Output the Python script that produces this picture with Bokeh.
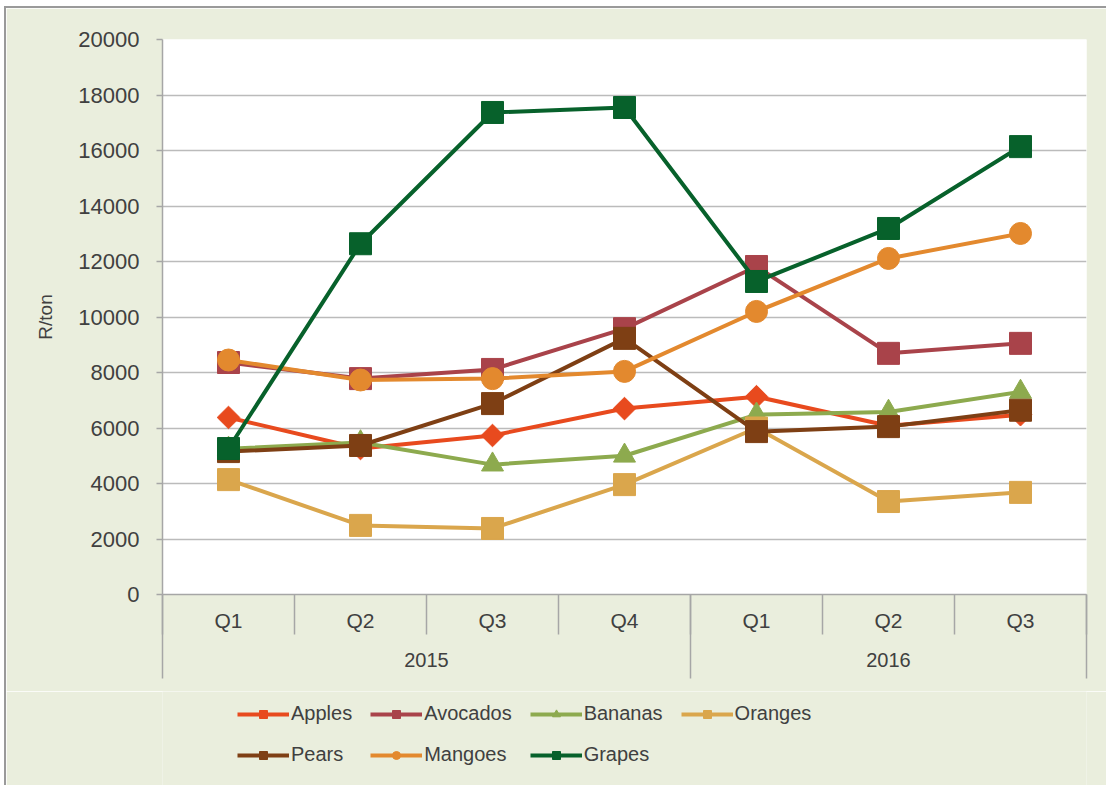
import numpy as np
from bokeh.plotting import figure
from bokeh.layouts import column
from bokeh.models import (Range1d, LinearAxis, FixedTicker,
                          Legend, LegendItem, ColumnDataSource)
from bokeh.embed import file_html
from bokeh.resources import INLINE

# Quarterly prices (R/ton), 2015 Q1 - 2016 Q3
years = ["2015", "2015", "2015", "2015", "2016", "2016", "2016"]
quarters = ["Q1", "Q2", "Q3", "Q4", "Q1", "Q2", "Q3"]

apples = [6380, 5260, 5730, 6700, 7130, 6080, 6480]
avocados = [8360, 7780, 8110, 9580, 11820, 8690, 9050]
bananas = [5250, 5480, 4680, 5000, 6480, 6580, 7300]
oranges = [4140, 2490, 2380, 3960, 6000, 3350, 3680]
pears = [5150, 5370, 6880, 9230, 5870, 6050, 6640]
mangoes = [8450, 7730, 7780, 8040, 10200, 12110, 13010]
grapes = [5260, 12640, 17370, 17550, 11280, 13190, 16140]

series = [
    ("Apples", apples, "#E84A1E", "diamond"),
    ("Avocados", avocados, "#A9434A", "square"),
    ("Bananas", bananas, "#8DAA4E", "triangle"),
    ("Oranges", oranges, "#DAA64C", "square"),
    ("Pears", pears, "#7E3F14", "square"),
    ("Mangoes", mangoes, "#E3892E", "circle"),
    ("Grapes", grapes, "#07612B", "square"),
]

TEXT = "#404040"
FONT = "Liberation Sans"
BG = "#EAEEDD"
GRID = "#BBBBBB"
AXIS = "#A6A6A6"
WIDTH = 1101

n = len(quarters)
# each period occupies one unit slot; points sit in the middle of their slot
slot_centers = [i + 0.5 for i in range(n)]

p = figure(
    width=WIDTH, height=683,
    x_range=Range1d(0, n),
    y_range=Range1d(0, 20000),
    x_axis_location=None,
    output_backend="svg", toolbar_location=None,
    min_border_left=156, min_border_top=31,
    min_border_right=21, min_border_bottom=97,
    background_fill_color="white", border_fill_color=BG,
    outline_line_color=None,
)

# y axis
yax = p.yaxis[0]
yax.ticker = FixedTicker(ticks=list(range(0, 20001, 2000)))
yax.axis_label = "R/ton"
yax.axis_label_text_font = FONT
yax.axis_label_text_font_style = "normal"
yax.axis_label_text_font_size = "19px"
yax.axis_label_text_color = TEXT
yax.axis_label_standoff = 19
yax.major_label_text_font = FONT
yax.major_label_text_font_size = "22px"
yax.major_label_text_color = TEXT
yax.major_label_standoff = 17
yax.major_tick_in = 0
yax.major_tick_out = 6
yax.major_tick_line_color = AXIS
yax.major_tick_line_width = 1.5
yax.minor_tick_line_color = None
yax.axis_line_color = AXIS
yax.axis_line_width = 1.5

p.xgrid.visible = False
p.ygrid.grid_line_color = GRID
p.ygrid.grid_line_width = 1.5

# category axes: quarter labels with slot separators, then year labels
qaxis = LinearAxis(
    ticker=FixedTicker(ticks=slot_centers, minor_ticks=list(range(n + 1))),
    major_label_overrides={c: q for c, q in zip(slot_centers, quarters)},
    major_tick_in=0, major_tick_out=0,
    minor_tick_in=0, minor_tick_out=40,
    minor_tick_line_color=AXIS, minor_tick_line_width=1.5,
    axis_line_color=AXIS, axis_line_width=1.5,
    major_label_text_font=FONT, major_label_text_font_size="21px",
    major_label_text_color=TEXT, major_label_standoff=-26,
)
p.add_layout(qaxis, "below")

year_names = list(dict.fromkeys(years))
year_centers = []
bounds = [0]
for y in year_names:
    idx = [i for i, v in enumerate(years) if v == y]
    year_centers.append((idx[0] + idx[-1] + 1) / 2)
    bounds.append(idx[-1] + 1)
yaxis2 = LinearAxis(
    ticker=FixedTicker(ticks=year_centers, minor_ticks=bounds),
    major_label_overrides={c: y for c, y in zip(year_centers, year_names)},
    major_tick_in=0, major_tick_out=0,
    minor_tick_in=40, minor_tick_out=44,
    minor_tick_line_color=AXIS, minor_tick_line_width=1.5,
    axis_line_color=None,
    major_label_text_font=FONT, major_label_text_font_size="20px",
    major_label_text_color=TEXT, major_label_standoff=-26,
)
p.add_layout(yaxis2, "below")

# legend strip below the chart; its keys reuse each series' data and style
leg = figure(
    width=WIDTH, height=95,
    x_range=Range1d(-20, -10), y_range=Range1d(-20, -10),
    x_axis_location=None, y_axis_location=None,
    output_backend="svg", toolbar_location=None,
    min_border=0, min_border_left=0, min_border_right=0,
    min_border_top=0, min_border_bottom=0,
    background_fill_color=BG, border_fill_color=BG,
    outline_line_color=None,
)
leg.xgrid.visible = False
leg.ygrid.visible = False


def add_series(fig, src, color, marker):
    ln = fig.line("x", "y", source=src, line_color=color, line_width=4)
    if marker == "diamond":
        mk = fig.scatter("x", "y", source=src, marker="square", angle=np.pi / 4,
                         size=16, fill_color=color, line_color=color)
    else:
        mk = fig.scatter("x", "y", source=src, marker=marker,
                         size=22, fill_color=color, line_color=color)
    return ln, mk


items = []
for name, vals, color, marker in series:
    src = ColumnDataSource(dict(x=slot_centers, y=vals))
    add_series(p, src, color, marker)
    ln, mk = add_series(leg, src, color, marker)
    items.append(LegendItem(label=name, renderers=[ln, mk]))

legend = Legend(
    items=items, orientation="horizontal", ncols=4,
    location=(75, 20),
    label_text_font=FONT, label_text_font_size="20px", label_text_color=TEXT,
    glyph_width=52, glyph_height=20, label_height=20, label_standoff=2,
    spacing=18, padding=4, margin=0,
    background_fill_alpha=0, border_line_color=None,
)
leg.add_layout(legend, "center")

layout = column(p, leg, spacing=0)
layout.styles = {"margin-left": "4px", "margin-top": "6px",
                 "border-left": "2px solid #9A9A9A", "border-top": "2px solid #9A9A9A"}

open("out.html", "w").write(file_html(layout, INLINE))
